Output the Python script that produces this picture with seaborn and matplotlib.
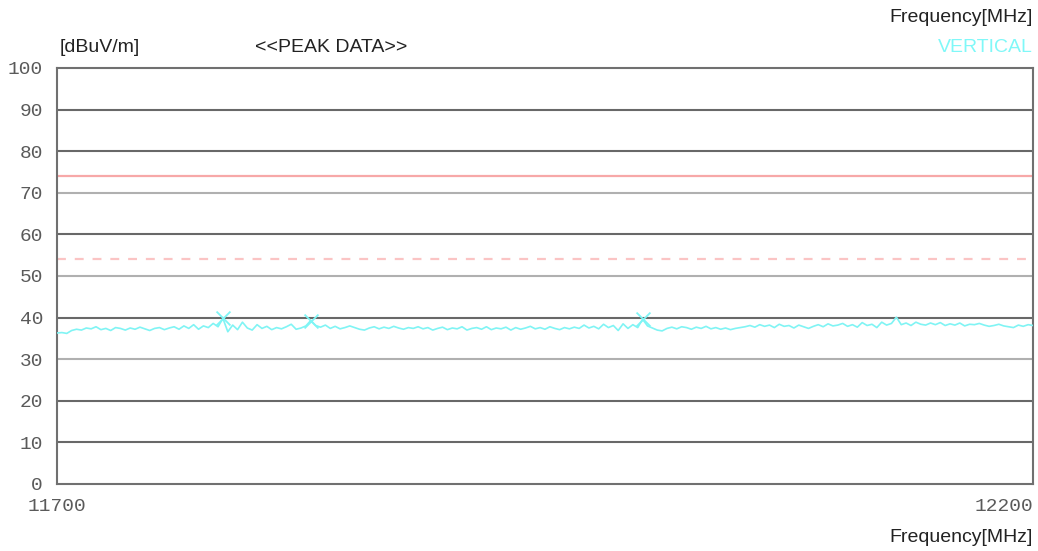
import numpy as np
import pandas as pd
import matplotlib
matplotlib.use("Agg")
import matplotlib.pyplot as plt
import seaborn as sns

# Peak trace, every 2.5 MHz
freq_start = 11700
freq_stop = 12200
level = [
    36.3, 36.4, 36.2, 36.9, 37.2, 37.0, 37.5, 37.3, 37.8, 37.1, 37.4, 36.9, 37.6, 37.4, 37.0, 37.5, 37.2, 37.7, 37.3, 36.9,
    37.4, 37.6, 37.1, 37.5, 37.8, 37.2, 38.0, 37.4, 38.3, 37.2, 38.0, 37.6, 38.6, 37.8, 39.8, 36.6, 38.2, 37.1, 38.9, 37.5,
    37.0, 38.3, 37.4, 37.9, 37.1, 37.6, 37.3, 37.8, 38.4, 37.2, 37.5, 38.0, 39.3, 38.1, 37.7, 38.2, 37.4, 37.9, 37.3, 37.6,
    38.0, 37.6, 37.2, 37.0, 37.5, 37.8, 37.3, 37.7, 37.4, 37.9, 37.5, 37.2, 37.6, 37.4, 37.8, 37.3, 37.6, 37.0, 37.4, 37.7,
    37.1, 37.5, 37.3, 37.8, 37.0, 37.4, 37.6, 37.2, 37.8, 37.1, 37.5, 37.3, 37.7, 37.0, 37.6, 37.2, 37.5, 37.9, 37.3, 37.6,
    37.2, 37.8, 37.4, 37.1, 37.6, 37.3, 37.7, 37.4, 38.2, 37.5, 37.9, 37.3, 38.4, 37.6, 38.1, 36.9, 38.5, 37.4, 38.3, 37.6,
    39.6, 38.0, 37.5, 37.0, 36.8, 37.4, 37.7, 37.3, 37.8, 37.6, 37.2, 37.7, 37.4, 37.9, 37.3, 37.6, 37.2, 37.5, 37.1, 37.4,
    37.6, 37.8, 38.1, 37.7, 38.3, 37.9, 38.2, 37.6, 38.4, 37.9, 38.1, 37.5, 38.2, 37.8, 37.4, 37.9, 38.3, 37.8, 38.5, 38.0,
    38.2, 38.6, 37.9, 38.3, 37.7, 38.8, 38.1, 38.4, 37.6, 38.9, 38.2, 38.6, 40.1, 38.3, 38.7, 38.1, 38.9, 38.4, 38.2, 38.7,
    38.3, 38.8, 38.1, 38.5, 38.2, 38.7, 38.0, 38.4, 38.3, 38.6, 38.2, 37.9, 38.1, 38.4, 38.0, 37.8, 37.6, 38.2, 37.9, 38.3, 38.1,
]
peak_freq = [11785, 11830, 12000]
peak_level = [39.8, 39.3, 39.6]
limit_peak = 74
limit_avg = 54
y_ticks = [0, 10, 20, 30, 40, 50, 60, 70, 80, 90, 100]
x_ticks = [11700, 12200]

freq = np.linspace(freq_start, freq_stop, len(level))
trace = pd.DataFrame({"freq": freq, "level": level})
peaks = pd.DataFrame({"freq": peak_freq, "level": peak_level})

sns.set_style("white")
plt.rcParams["font.family"] = ["Liberation Sans", "DejaVu Sans"]

fig = plt.figure(figsize=(10.38, 5.51), dpi=100)
ax = fig.add_axes([57 / 1038, 67 / 551, 976 / 1038, 416 / 551])

# grid lines, alternating shades like the reference
for y in y_ticks[1:-1]:
    shade = "#b0b0b0" if y in (30, 50, 70) else "#686868"
    ax.axhline(y, color=shade, lw=1.5, zorder=1)

ax.axhline(limit_peak, color="#f7a8a8", lw=1.6, zorder=2)
ax.axhline(limit_avg, color="#fbc4c4", lw=1.6, ls=(0, (4, 4)), zorder=2)

sns.lineplot(data=trace, x="freq", y="level", color="#80f4f4", lw=1.2, ax=ax, zorder=3)
sns.scatterplot(data=peaks, x="freq", y="level", marker="x", s=100, color="#7ff5f5",
                linewidth=1.3, ax=ax, zorder=4)

ax.set_xlim(freq_start, freq_stop)
ax.set_ylim(0, 100)
ax.set_xlabel("")
ax.set_ylabel("")
ax.set_yticks(y_ticks)
ax.set_xticks(x_ticks)
ax.tick_params(axis="y", length=0, pad=10, labelsize=14, labelcolor="#5a5a5a")
ax.tick_params(axis="x", length=0, pad=10, labelsize=14, labelcolor="#5a5a5a")
for lab in ax.get_yticklabels() + ax.get_xticklabels():
    lab.set_family("Liberation Mono")
ax.get_xticklabels()[-1].set_horizontalalignment("right")
for side in ax.spines.values():
    side.set_color("#707070")
    side.set_linewidth(1.5)

txt = dict(fontsize=14, color="#222222", va="center")
fig.text(60 / 1038, 1 - 47 / 551, "[dBuV/m]", ha="left", **txt)
fig.text(255 / 1038, 1 - 47 / 551, "<<PEAK DATA>>", ha="left", **txt)
fig.text(1033 / 1038, 1 - 17 / 551, "Frequency[MHz]", ha="right", **txt)
fig.text(1033 / 1038, 1 - 537 / 551, "Frequency[MHz]", ha="right", **txt)
fig.text(1033 / 1038, 1 - 47 / 551, "VERTICAL", ha="right", fontsize=14,
         color="#80f8f8", va="center")

fig.savefig("out.png", dpi=100)
